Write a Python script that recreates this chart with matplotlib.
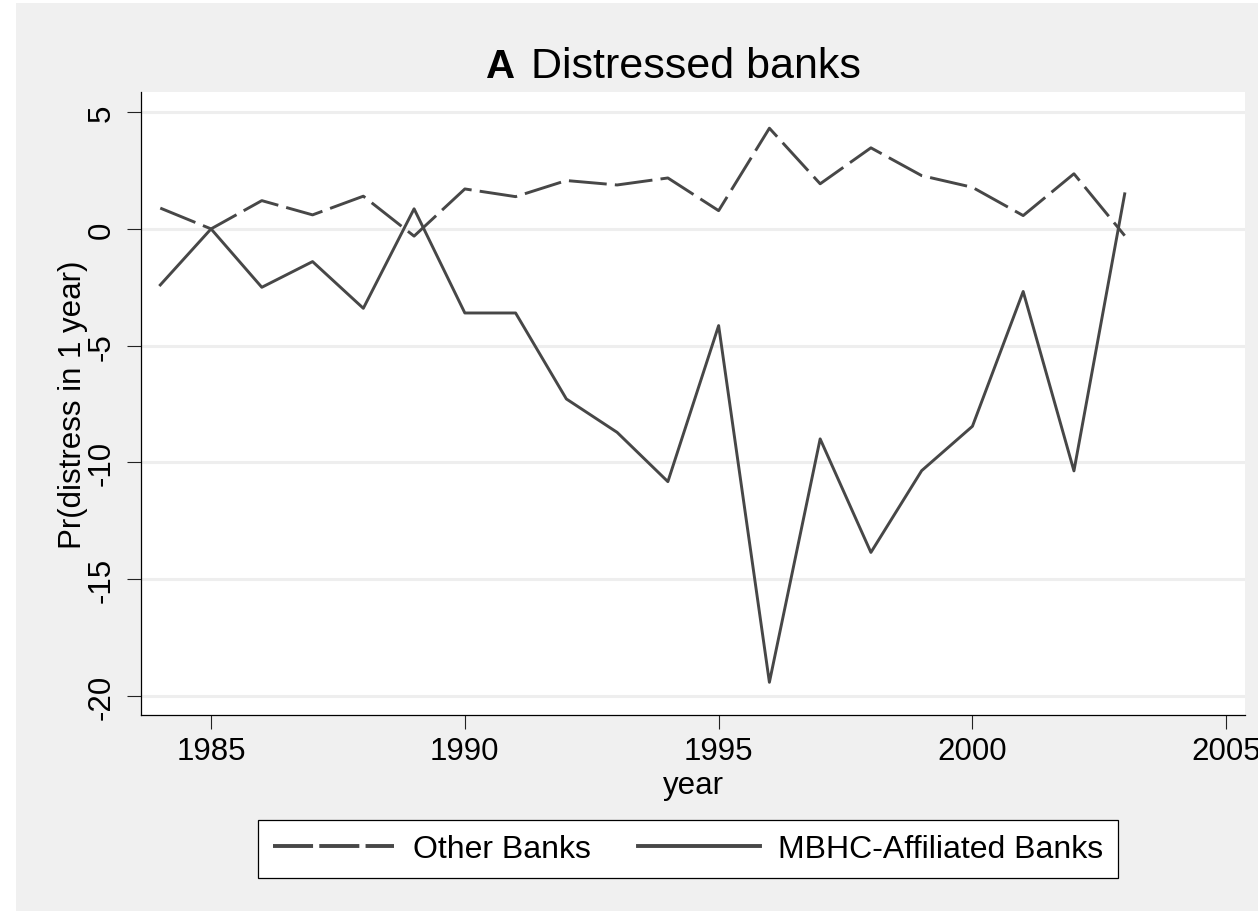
import matplotlib
matplotlib.use('Agg')
import matplotlib.pyplot as plt
from matplotlib.patches import Rectangle

plt.rcParams['font.family'] = ['Liberation Sans', 'DejaVu Sans']
plt.rcParams['axes.unicode_minus'] = False

# estimated effect by year
years = list(range(1984, 2004))
other_banks = [0.89, 0.0, 1.21, 0.60, 1.40, -0.31, 1.71, 1.38, 2.07, 1.88,
               2.18, 0.78, 4.31, 1.93, 3.47, 2.28, 1.78, 0.57, 2.36, -0.29]
mbhc_banks = [-2.40, 0.0, -2.50, -1.40, -3.40, 0.86, -3.60, -3.60, -7.28, -8.71,
              -10.82, -4.14, -19.41, -8.99, -13.85, -10.35, -8.45, -2.68, -10.36, 1.50]

xticks = [1985, 1990, 1995, 2000, 2005]
yticks = [5, 0, -5, -10, -15, -20]

W, H = 1258, 912
fig = plt.figure(figsize=(W / 100, H / 100), dpi=100)
fig.patch.set_facecolor('white')
fig.patches.append(Rectangle((16 / W, 0), 1 - 16 / W, 1 - 4 / H,
                             transform=fig.transFigure, facecolor='#f0f0f0',
                             edgecolor='none', zorder=-10))

ax = fig.add_axes([141 / W, 1 - 716 / H, (1245 - 141) / W, (716 - 93) / H])
ax.set_facecolor('white')

line_col = '#474747'
lw = 2.1
ax.plot(years, other_banks, color=line_col, lw=lw, linestyle=(0, (13, 2.8)),
        label='Other Banks')
ax.plot(years, mbhc_banks, color=line_col, lw=lw, label='MBHC-Affiliated Banks')

ax.set_xlim(1983.62, 2005.37)
ax.set_ylim(-20.81, 5.86)
ax.set_xticks(xticks)
ax.set_yticks(yticks)
ax.set_yticklabels([str(v) for v in yticks], rotation=90, va='center')

ax.grid(axis='y', color='#eeeeee', lw=2.2)
ax.set_axisbelow(True)
for s in ['top', 'right']:
    ax.spines[s].set_visible(False)
for s in ['left', 'bottom']:
    ax.spines[s].set_linewidth(0.9)
    ax.spines[s].set_color('black')

ax.tick_params(axis='both', length=10, width=0.8, labelsize=22.5, color='#222222')
ax.tick_params(axis='x', pad=5)
ax.tick_params(axis='y', pad=7.5)

ax.set_xlabel('year', fontsize=22.5, labelpad=3)
ax.set_ylabel('Pr(distress in 1 year)', fontsize=22.5, labelpad=-1)

fig.text(515 / W, 1 - 78 / H, 'A', fontsize=29, fontweight='bold',
         ha='right', va='baseline')
fig.text(531 / W, 1 - 78 / H, 'Distressed banks', fontsize=31,
         ha='left', va='baseline')

leg = ax.legend(loc='center', bbox_to_anchor=(688 / W, 1 - 850 / H),
                bbox_transform=fig.transFigure, ncol=2, fontsize=23,
                handlelength=3.8, handletextpad=0.58, columnspacing=1.5,
                borderpad=0.45, fancybox=False, framealpha=1)
leg.get_frame().set_edgecolor('black')
leg.get_frame().set_linewidth(0.9)
# thicker keys in the legend
leg_lines = leg.get_lines()
for ln in leg_lines:
    ln.set_linewidth(2.8)
leg_lines[0].set_linestyle((0, (10.3, 1.6)))

plt.savefig('out.png', dpi=100)
